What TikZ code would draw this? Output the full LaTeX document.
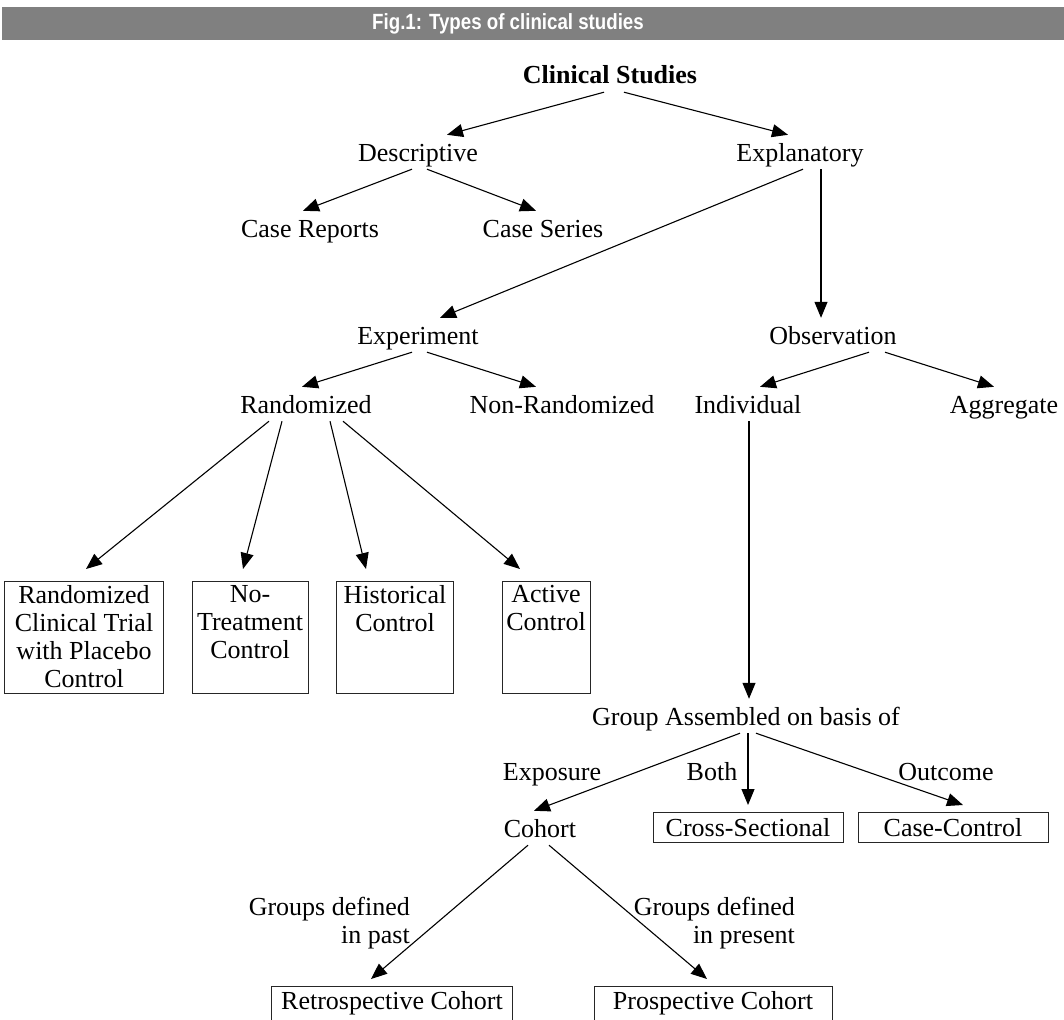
\documentclass[tikz,border=0pt]{standalone}
\usepackage{fontspec}
\setmainfont{Liberation Serif}
\newfontfamily\headfont[FakeStretch=0.85]{Liberation Sans}
\usetikzlibrary{arrows.meta}

\tikzset{
  lbl/.style={inner xsep=0pt,inner ysep=8pt,text height=18pt,text depth=0pt,anchor=base},
  arr/.style={-{Triangle[length=16pt,width=13pt]},line width=1.1pt},
  cbox/.style={draw=black!85,line width=0.9pt,inner xsep=0pt,inner ysep=4pt,anchor=north},
  sbox/.style={draw=black!85,line width=0.9pt,minimum width=190pt,text height=18pt,text depth=0pt,inner ysep=6pt,anchor=north}
}
\newcommand{\boxlines}[2]{\parbox[t][104pt][t]{#1}{\centering #2}}

\begin{document}
\begin{tikzpicture}[x=1pt,y=-1pt,font=\fontsize{26}{28}\selectfont]
\path[use as bounding box] (0,0) rectangle (1064,1019);
\clip (0,0) rectangle (1064,1019);

% title bar
\fill[black!50] (2,7) rectangle (1064,40);
\node[text=white,font=\headfont\bfseries\fontsize{22}{24}\selectfont] (ttl) at (508,24) {Fig.1: Types of clinical studies};

\node[lbl,font=\bfseries\fontsize{26}{28}\selectfont] (cs) at (610,84) {Clinical Studies};
\node[lbl] (desc) at (418,161) {Descriptive};
\node[lbl] (expl) at (800,161) {Explanatory};
\node[lbl] (crep) at (310,237) {Case Reports};
\node[lbl] (cser) at (543,237) {Case Series};
\node[lbl] (expt) at (418,344) {Experiment};
\node[lbl] (obs) at (833,344) {Observation};
\node[lbl] (rand) at (306,413) {Randomized};
\node[lbl] (nrand) at (562,413) {Non-Randomized};
\node[lbl] (indiv) at (748,413) {Individual};
\node[lbl] (aggr) at (1004,413) {Aggregate};

% control boxes
\node[cbox] (b1) at (84,581) {\boxlines{159pt}{Randomized\\Clinical Trial\\with Placebo\\Control}};
\node[cbox] (b2) at (250,581) {\boxlines{116pt}{No-\\Treatment\\Control}};
\node[cbox] (b3) at (395,581) {\boxlines{117pt}{Historical\\Control}};
\node[cbox] (b4) at (546,581) {\boxlines{88pt}{Active\\Control}};

\node[lbl] (gab) at (746,725) {Group Assembled on basis of};
\node[lbl] (expo) at (552,780) {Exposure};
\node[lbl] (both) at (712,780) {Both};
\node[lbl] (outc) at (946,780) {Outcome};
\node[lbl] (coh) at (540,837) {Cohort};
\node[sbox] (xsec) at (748,812) {Cross-Sectional};
\node[sbox] (cc) at (953,812) {Case-Control};

\node[align=right,anchor=north east,inner sep=0pt] (past) at (410,897) {Groups defined\\in past};
\node[align=right,anchor=north east,inner sep=0pt] (pres) at (795,897) {Groups defined\\in present};
\node[sbox,minimum width=241pt,inner ysep=5pt,text depth=6pt] (retro) at (392,986) {Retrospective Cohort};
\node[sbox,minimum width=238pt,inner ysep=5pt,text depth=6pt] (pro) at (713,986) {Prospective Cohort};

\draw ([xshift=-6pt]cs.south) edge[arr] ([xshift=29pt]desc.north);
\draw ([xshift=14pt]cs.south) edge[arr] ([xshift=-12pt]expl.north);
\draw ([xshift=-6pt]desc.south) edge[arr] ([xshift=-7pt]crep.north);
\draw ([xshift=9pt]desc.south) edge[arr] ([xshift=-7pt]cser.north);
\draw ([xshift=3pt]expl.south) edge[arr] ([xshift=22pt]expt.north);
\draw ([xshift=21pt]expl.south) edge[arr] ([xshift=-12pt]obs.north);
\draw ([xshift=-6pt]expt.south) edge[arr] ([xshift=-4pt]rand.north);
\draw ([xshift=9pt]expt.south) edge[arr] ([xshift=-26pt]nrand.north);
\draw ([xshift=36pt]obs.south) edge[arr] ([xshift=12pt]indiv.north);
\draw ([xshift=52pt]obs.south) edge[arr] ([xshift=-10pt]aggr.north);
\draw ([xshift=-37pt]rand.south) edge[arr] ([xshift=2pt,yshift=12pt]b1.north);
\draw ([xshift=-24pt]rand.south) edge[arr] ([xshift=-7pt,yshift=12pt]b2.north);
\draw ([xshift=24pt]rand.south) edge[arr] ([xshift=-29pt,yshift=12pt]b3.north);
\draw ([xshift=37pt]rand.south) edge[arr] ([xshift=-26pt,yshift=12pt]b4.north);
\draw ([xshift=1pt]indiv.south) edge[arr] ([xshift=3pt]gab.north);
\draw ([xshift=-6pt]gab.south) edge[arr] ([xshift=-6pt]coh.north);
\draw ([xshift=2pt]gab.south) edge[arr] ([yshift=7pt]xsec.north);
\draw ([xshift=10pt]gab.south) edge[arr] ([xshift=10pt,yshift=7pt]cc.north);
\draw ([xshift=-12pt]coh.south) edge[arr] ([xshift=-21pt,yshift=7pt]retro.north);
\draw ([xshift=9pt]coh.south) edge[arr] ([xshift=-6pt,yshift=7pt]pro.north);
\end{tikzpicture}
\end{document}
